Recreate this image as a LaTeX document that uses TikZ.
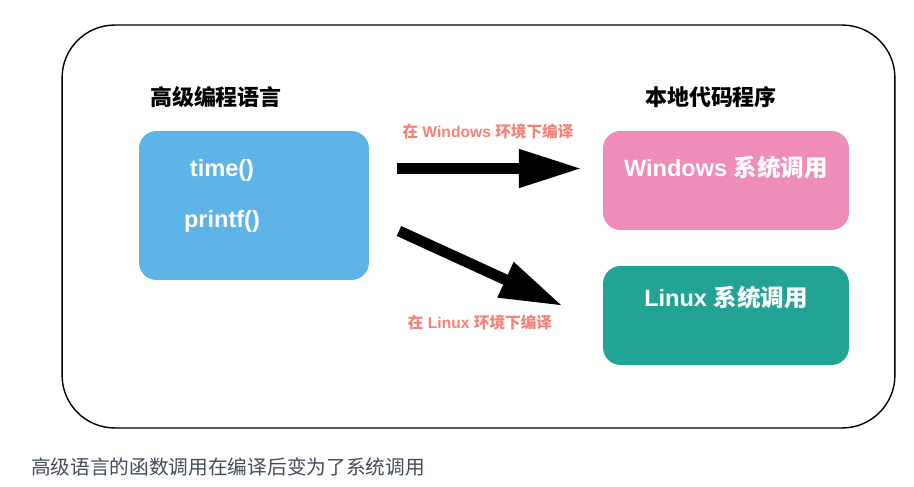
\documentclass[tikz,border=0pt]{standalone}
\usepackage{fontspec}
\setmainfont{Liberation Sans}
\newfontfamily\cjkfont{Noto Sans CJK SC}
\newcommand{\zh}[1]{{\cjkfont #1}}
\usetikzlibrary{arrows.meta}
\definecolor{LangBlue}{RGB}{94,180,230}
\definecolor{WinPink}{RGB}{239,140,185}
\definecolor{LinTeal}{RGB}{33,163,150}
\definecolor{LblSalmon}{RGB}{244,130,120}
\definecolor{NoteGray}{RGB}{65,75,90}

\begin{document}
\begin{tikzpicture}[
  x=0.02cm, y=-0.02cm,
  box/.style={rounded corners=10pt, inner sep=0pt, minimum width=4.92cm,
    minimum height=1.98cm},
  head/.style={font=\bfseries\fontsize{12.5}{14}\selectfont, text=black},
  inbox/.style={font=\bfseries\fontsize{13.4}{15}\selectfont, text=white},
  lbl/.style={font=\bfseries\fontsize{8.9}{10}\selectfont, text=LblSalmon},
  arr/.style={-{Triangle[length=36pt, width=20.5pt]}, line width=6.2pt},
]
\useasboundingbox (0,0) rectangle (914,487);

% outer frame
\node[draw, line width=0.8pt, rounded corners=30pt, minimum width=16.66cm,
  minimum height=8.06cm] (frame) at (478.5,226.5) {};

% left side
\node[head] (langtitle) at (216,97) {\zh{高级编程语言}};
\node[box, fill=LangBlue, minimum width=4.6cm, minimum height=2.98cm]
  (lang) at (254,205.5) {};
\node[inbox] (time) at (222,170) {time()};
\node[inbox] (printf) at (222,221) {printf()};

% right side
\node[head] (nattitle) at (711,97) {\zh{本地代码程序}};
\node[box, fill=WinPink] (win) at (726,180.5) {};
\node[inbox] (wintext) at (726,168) {Windows \zh{系统调用}};
\node[box, fill=LinTeal] (lin) at (726,315.5) {};
\node[inbox] (lintext) at (726,298) {Linux \zh{系统调用}};

% compile arrows
\coordinate (winfrom) at (397,168.5);
\coordinate (winto) at (582,168.5);
\coordinate (linfrom) at (399,231);
\coordinate (linto) at (563,306);
\draw[arr] (winfrom) -- (winto);
\draw[arr] (linfrom) -- (linto);
\node[lbl] (winlbl) at (488,132) {\zh{在} Windows \zh{环境下编译}};
\node[lbl] (linlbl) at (480,323) {\zh{在} Linux \zh{环境下编译}};

% caption
\node[anchor=west, text=NoteGray, font=\fontsize{11.2}{14}\selectfont]
  (note) at (25,467) {\zh{高级语言的函数调用在编译后变为了系统调用}};
\end{tikzpicture}
\end{document}
